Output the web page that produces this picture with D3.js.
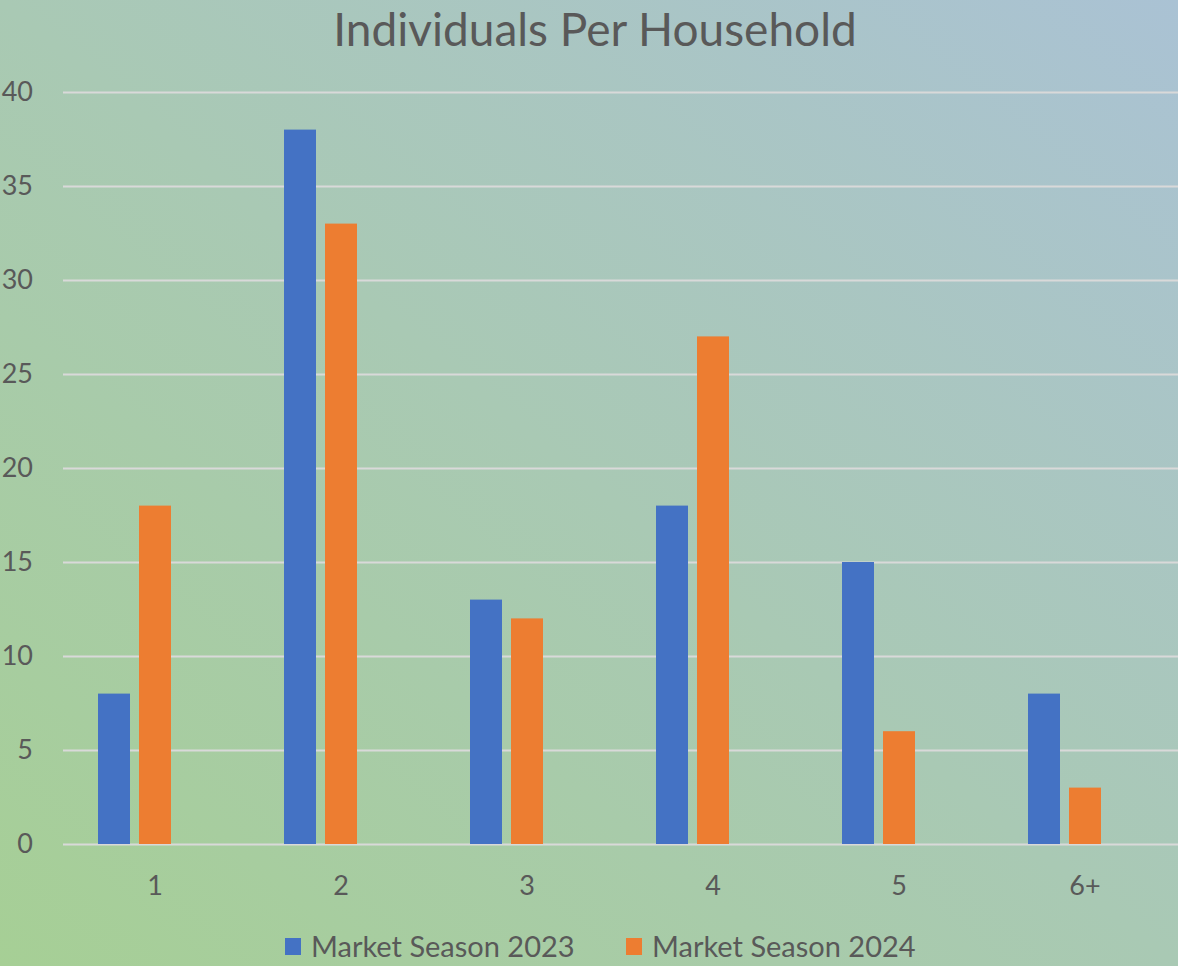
<!DOCTYPE html>
<html lang="en">
<head>
	<meta charset="utf-8">
	<title>Individuals Per Household</title>
	<script src="https://d3js.org/d3.v7.min.js"></script>
	<style>
	html, body { margin: 0; padding: 0; overflow: hidden; }
	text {
		font-family: Lato, "Open Sans", sans-serif;
		fill: #595959;
	}
	</style>
</head>
<body>
	<script>
	// chart data
	var categories = ["1", "2", "3", "4", "5", "6+"];
	var seriesNames = ["Market Season 2023", "Market Season 2024"];
	var season2023 = [8, 38, 13, 18, 15, 8];
	var season2024 = [18, 33, 12, 27, 6, 3];
	var yTicks = [0, 5, 10, 15, 20, 25, 30, 35, 40];
	var colors = ["#4472c4", "#ed7d31"];

	var w = 1178;
	var h = 966;

	var svg = d3.select("body")
		.append("svg")
		.attr("width", w)
		.attr("height", h);

	// background gradient, green bottom-left to blue top-right
	var defs = svg.append("defs");
	var grad = defs.append("linearGradient")
		.attr("id", "bg")
		.attr("x1", "0").attr("y1", "1")
		.attr("x2", "1").attr("y2", "0");
	grad.append("stop").attr("offset", "0%").attr("stop-color", "#a6cf95");
	grad.append("stop").attr("offset", "50%").attr("stop-color", "#a9c9b4");
	grad.append("stop").attr("offset", "100%").attr("stop-color", "#aac2d4");

	svg.append("rect")
		.attr("width", w)
		.attr("height", h)
		.attr("fill", "url(#bg)");

	var xScale = d3.scaleBand()
		.domain(categories)
		.range([62, 1178]);

	// three slots per category, the third one stays empty (as in the original)
	var slot = d3.scaleBand()
		.domain([0, 1, 2])
		.range([36, xScale.bandwidth() - 36])
		.paddingInner(9 / 41);

	var yScale = d3.scaleLinear()
		.domain([0, 40])
		.range([844, 92]);

	// gridlines + y labels
	var yAxis = d3.axisLeft(yScale)
		.tickValues(yTicks)
		.tickSize(-(1178 - 63))
		.tickPadding(30);

	var gy = svg.append("g")
		.attr("transform", "translate(63,0)")
		.call(yAxis);
	gy.select(".domain").remove();
	gy.selectAll(".tick line")
		.attr("stroke", "#d9d9d9")
		.attr("stroke-width", 2);
	gy.selectAll(".tick text")
		.attr("x", -30)
		.attr("text-anchor", "end")
		.style("font-size", "27px")
		.style("font-family", "Lato, sans-serif")
		.attr("fill", "#595959");

	// bars
	var seriesData = [season2023, season2024];
	seriesData.forEach(function(values, s) {
		svg.append("g")
			.selectAll("rect")
			.data(values)
			.enter()
			.append("rect")
			.attr("x", function(d, i) { return xScale(categories[i]) + slot(s); })
			.attr("y", function(d) { return yScale(d); })
			.attr("width", slot.bandwidth())
			.attr("height", function(d) { return yScale(0) - yScale(d); })
			.attr("fill", colors[s]);
	});

	// x labels
	var xAxis = d3.axisBottom(xScale).tickSize(0).tickPadding(0);
	var gx = svg.append("g")
		.attr("transform", "translate(0,844)")
		.call(xAxis);
	gx.select(".domain").remove();
	gx.selectAll(".tick text")
		.attr("y", 51)
		.attr("dy", 0)
		.style("font-size", "27px")
		.style("font-family", "Lato, sans-serif")
		.attr("fill", "#595959");

	// title
	svg.append("text")
		.attr("x", 595)
		.attr("y", 46)
		.attr("text-anchor", "middle")
		.style("font-size", "46px")
		.text("Individuals Per Household");

	// legend
	var legendX = [285, 626];
	var legend = svg.append("g");
	seriesNames.forEach(function(name, s) {
		legend.append("rect")
			.attr("x", legendX[s])
			.attr("y", 938)
			.attr("width", 16)
			.attr("height", 17)
			.attr("fill", colors[s]);
		legend.append("text")
			.attr("x", legendX[s] + 26)
			.attr("y", 957)
			.style("font-size", "29px")
			.text(name);
	});
	</script>
</body>
</html>
